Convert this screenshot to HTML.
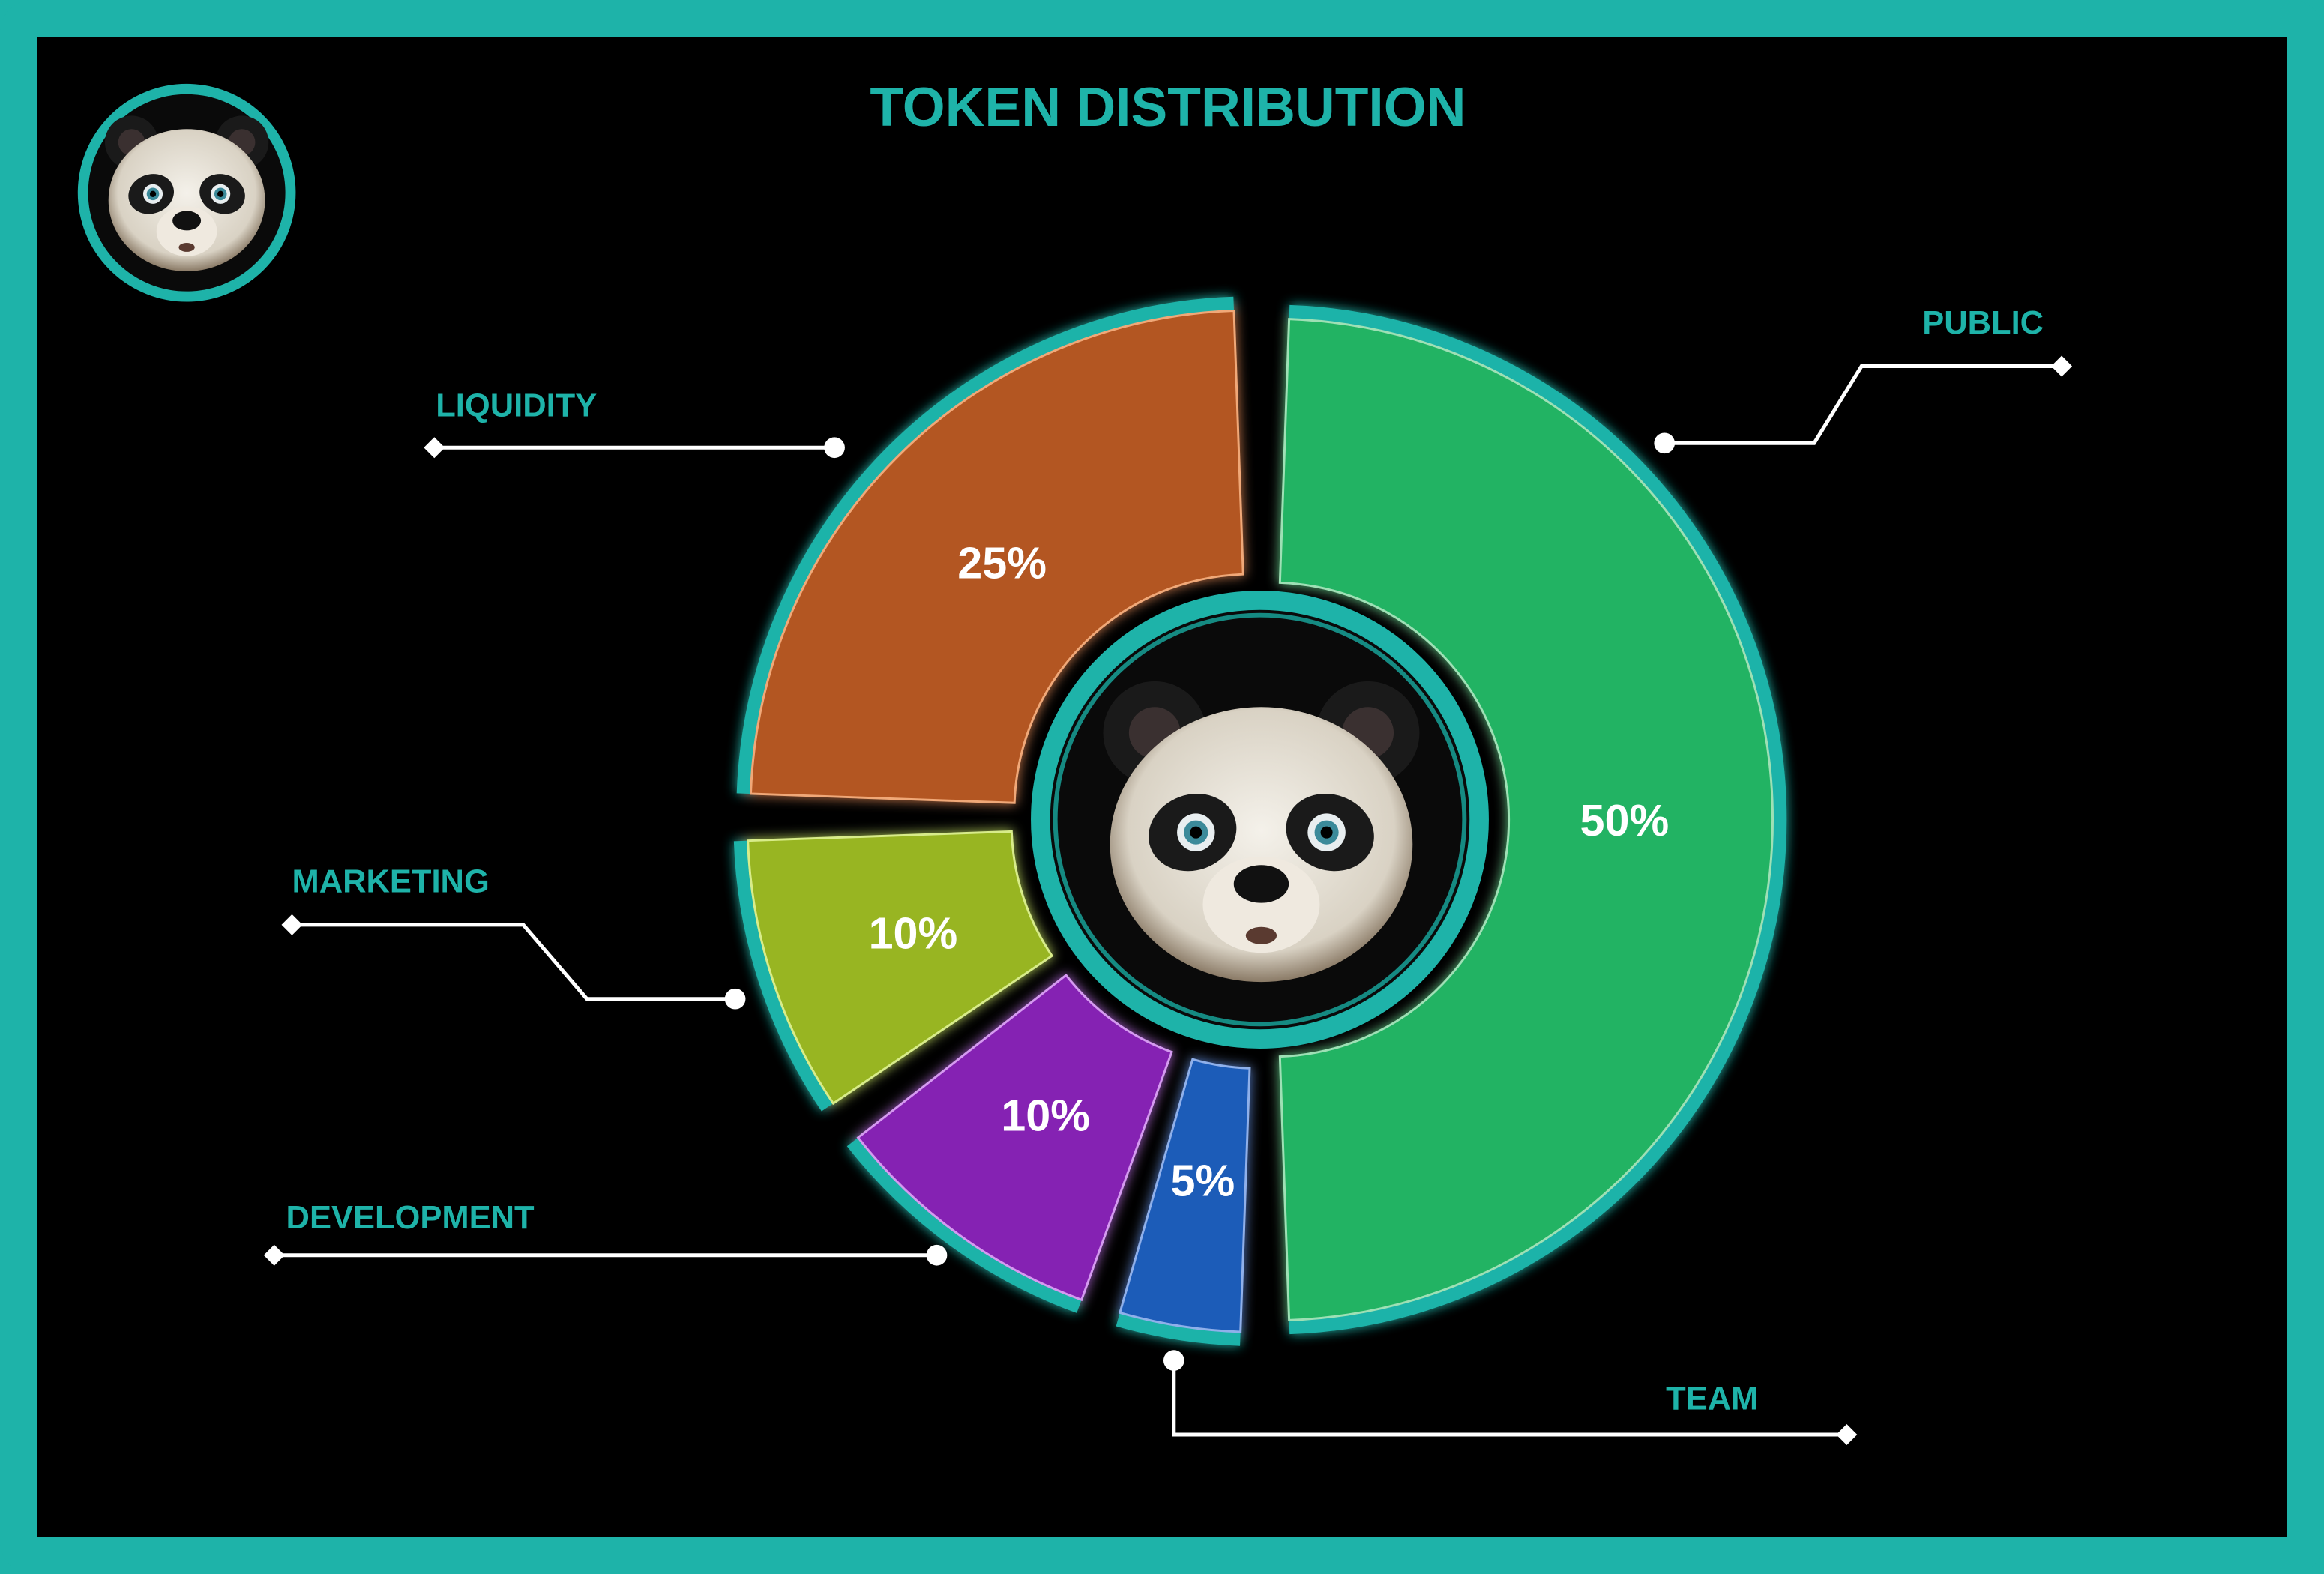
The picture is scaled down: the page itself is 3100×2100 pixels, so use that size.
<!DOCTYPE html>
<html><head><meta charset="utf-8"><style>
html,body{margin:0;padding:0;background:#1eb3a9;}
svg{display:block;}
text{font-family:"Liberation Sans",sans-serif;font-weight:bold;}
</style></head><body>
<svg id="chart" width="3100" height="2100" viewBox="0 0 1568 1062" xmlns="http://www.w3.org/2000/svg">
<defs>
<filter id="glow" x="-20%" y="-20%" width="140%" height="140%"><feGaussianBlur stdDeviation="4" result="b"/><feMerge><feMergeNode in="b"/><feMergeNode in="SourceGraphic"/></feMerge></filter>
<radialGradient id="face" cx="50%" cy="45%" r="55%"><stop offset="0" stop-color="#f4f1ea"/><stop offset="0.8" stop-color="#d9d2c4"/><stop offset="1" stop-color="#8a7a66"/></radialGradient>
<symbol id="panda" viewBox="-100 -100 200 200">
<circle cx="-62" cy="-60" r="30" fill="#1a1a1a"/><circle cx="62" cy="-60" r="30" fill="#1a1a1a"/>
<circle cx="-62" cy="-60" r="15" fill="#3a3030"/><circle cx="62" cy="-60" r="15" fill="#3a3030"/>
<ellipse cx="0" cy="5" rx="88" ry="80" fill="url(#face)"/>
<ellipse cx="-40" cy="-2" rx="26" ry="22" fill="#1a1a1a" transform="rotate(-20 -40 -2)"/>
<ellipse cx="40" cy="-2" rx="26" ry="22" fill="#1a1a1a" transform="rotate(20 40 -2)"/>
<circle cx="-38" cy="-2" r="11" fill="#e8eef0"/><circle cx="38" cy="-2" r="11" fill="#e8eef0"/>
<circle cx="-38" cy="-2" r="7" fill="#3b8a9a"/><circle cx="38" cy="-2" r="7" fill="#3b8a9a"/>
<circle cx="-38" cy="-2" r="3.5" fill="#000"/><circle cx="38" cy="-2" r="3.5" fill="#000"/>
<ellipse cx="0" cy="40" rx="34" ry="28" fill="#efe9df"/>
<ellipse cx="0" cy="28" rx="16" ry="11" fill="#111"/>
<ellipse cx="0" cy="58" rx="9" ry="5" fill="#5a3a30"/>
</symbol>
</defs>
<rect x="0" y="0" width="1568" height="1062" rx="22" fill="#1eb3a9"/>
<rect x="25" y="25" width="1518" height="1012" fill="#000"/>
<text x="788" y="85" text-anchor="middle" font-size="37" fill="#1eb3a9">TOKEN DISTRIBUTION</text>
<g>
<circle cx="126" cy="130" r="70" fill="#0a0a0a" stroke="#1eb3a9" stroke-width="7"/>
<use href="#panda" x="66" y="72" width="120" height="120"/>
</g>
<g id="slices"></g>
<g>
<circle cx="850" cy="553" r="148" fill="#0a0a0a" stroke="#1eb3a9" stroke-width="13"/>
<circle cx="850" cy="553" r="138" fill="#0a0a0a" stroke="#158a82" stroke-width="3"/>
<use href="#panda" x="735" y="448" width="232" height="232"/>
</g>
<g id="labels"></g>
</svg>
<script>
const categories = ["PUBLIC","TEAM","DEVELOPMENT","MARKETING","LIQUIDITY"];
const values = [50,5,10,10,25];
const valueLabels = ["50%","5%","10%","10%","25%"];
const colors = ["#22b363","#1f5bb8","#8520b3","#98b520","#b35620"];
const edgeColors = ["#9ee0b5","#8fb0ea","#d59af0","#d8ec8a","#f0a878"];

const NS="http://www.w3.org/2000/svg";
const cx=850, cy=553, rIn=160, rOut=338, startDeg=-90, gap=4, explode=8;
const total=values.reduce((a,b)=>a+b,0);
function ang(v){return startDeg+v/total*360;}
function pt(r,a,ox,oy){const t=a*Math.PI/180;return [cx+ox+r*Math.cos(t),cy+oy+r*Math.sin(t)];}
function arcPath(r1,r2,a1,a2,ox,oy){
  const large=(a2-a1)>180?1:0;
  const p1=pt(r2,a1,ox,oy),p2=pt(r2,a2,ox,oy),p3=pt(r1,a2,ox,oy),p4=pt(r1,a1,ox,oy);
  return `M${p1[0]},${p1[1]} A${r2},${r2} 0 ${large} 1 ${p2[0]},${p2[1]} L${p3[0]},${p3[1]} A${r1},${r1} 0 ${large} 0 ${p4[0]},${p4[1]} Z`;
}
const sg=document.getElementById('slices');
let cum=0;
values.forEach((v,i)=>{
  const a1=ang(cum)+gap/2, a2=ang(cum+v)-gap/2; cum+=v;
  const mid=(a1+a2)/2*Math.PI/180, ox=explode*Math.cos(mid), oy=explode*Math.sin(mid);
  const g=document.createElementNS(NS,'g');
  
  
  g.setAttribute('filter','url(#glow)');
  const rim=document.createElementNS(NS,'path');
  
  
  const q1=pt(rOut+5,a1,ox,oy),q2=pt(rOut+5,a2,ox,oy);
  rim.setAttribute('d',`M${q1[0]},${q1[1]} A${rOut+5},${rOut+5} 0 ${(a2-a1)>180?1:0} 1 ${q2[0]},${q2[1]}`);
  rim.setAttribute('fill','none');rim.setAttribute('stroke','#1eb3a9');rim.setAttribute('stroke-width','9');
  g.appendChild(rim);
  const p=document.createElementNS(NS,'path');
  
  
  p.setAttribute('d',arcPath(rIn,rOut,a1,a2,ox,oy));
  p.setAttribute('fill',colors[i]);p.setAttribute('stroke',edgeColors[i]);p.setAttribute('stroke-width','1.5');
  g.appendChild(p);
  sg.appendChild(g);
  const lp=pt(238,(a1+a2)/2,ox,oy);
  const t=document.createElementNS(NS,'text');
  
  
  t.setAttribute('x',lp[0]);t.setAttribute('y',lp[1]+11);t.setAttribute('text-anchor','middle');
  t.setAttribute('font-size','30');t.setAttribute('fill','#fff');t.textContent=valueLabels[i];
  sg.appendChild(t);
});
// leader-line layout (presentation only)
const leaderLayout = {
  "PUBLIC":{text:[1297,225],pts:[[1123,299],[1224,299],[1256,247],[1391,247]],dotFirst:true},
  "TEAM":{text:[1124,951],pts:[[792,918],[792,968],[1246,968]],dotFirst:true},
  "DEVELOPMENT":{text:[193,829],pts:[[185,847],[632,847]],dotFirst:false},
  "MARKETING":{text:[197,602],pts:[[197,624],[353,624],[396,674],[496,674]],dotFirst:false},
  "LIQUIDITY":{text:[294,281],pts:[[293,302],[563,302]],dotFirst:false}
};
const lg=document.getElementById('labels');
categories.forEach(c=>{
  const L=leaderLayout[c];
  const g=document.createElementNS(NS,'g');
  
  
  const t=document.createElementNS(NS,'text');
  
  
  t.setAttribute('x',L.text[0]);t.setAttribute('y',L.text[1]);t.setAttribute('font-size','22');t.setAttribute('fill','#1eb3a9');
  t.textContent=c;g.appendChild(t);
  const pl=document.createElementNS(NS,'polyline');
  
  
  pl.setAttribute('points',L.pts.map(p=>p.join(',')).join(' '));
  pl.setAttribute('fill','none');pl.setAttribute('stroke','#fff');pl.setAttribute('stroke-width','2.5');
  g.appendChild(pl);
  const dp=L.dotFirst?L.pts[0]:L.pts[L.pts.length-1];
  const mp=L.dotFirst?L.pts[L.pts.length-1]:L.pts[0];
  const d=document.createElementNS(NS,'circle');
  
  
  d.setAttribute('cx',dp[0]);d.setAttribute('cy',dp[1]);d.setAttribute('r','7');d.setAttribute('fill','#fff');
  g.appendChild(d);
  const m=document.createElementNS(NS,'rect');
  
  
  m.setAttribute('x',mp[0]-5);m.setAttribute('y',mp[1]-5);m.setAttribute('width','10');m.setAttribute('height','10');
  m.setAttribute('fill','#fff');m.setAttribute('transform',`rotate(45 ${mp[0]} ${mp[1]})`);
  g.appendChild(m);
  lg.appendChild(g);
});
</script>
</body></html>
